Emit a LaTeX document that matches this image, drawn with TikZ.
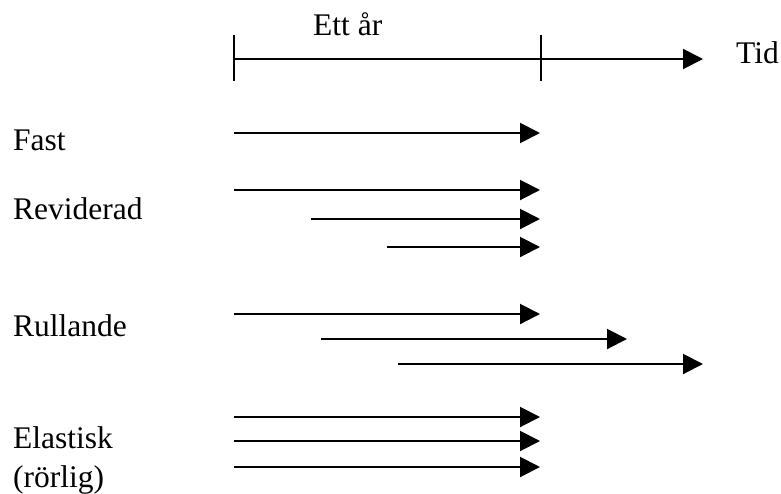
\documentclass[tikz,border=0pt]{standalone}
\usepackage{fontspec}
\setmainfont{Liberation Serif}
\usetikzlibrary{arrows.meta}
\begin{document}
\begin{tikzpicture}[x=1pt,y=-1pt,
  lbl/.style={anchor=base west,inner sep=0pt,font=\fontsize{31.5}{36}\selectfont},
  axis/.style={line width=2pt},
  plan/.style={line width=2pt,-{Triangle[length=20pt,width=20pt]}}]
\useasboundingbox (0,0) rectangle (781,493);
% time axis
\coordinate (a0) at (234,59);
\coordinate (a1) at (541,59);
\coordinate (a2) at (703,59);
\coordinate (t0a) at (234,35); \coordinate (t0b) at (234,81);
\coordinate (t1a) at (541,35); \coordinate (t1b) at (541,81);
\draw[axis] (t0a) -- (t0b);
\draw[axis] (t1a) -- (t1b);
\draw[plan] (a0) -- (a2);
\node[lbl] (ett) at (313,35) {Ett år};
\node[lbl] (tid) at (736,63) {Tid};
% labels
\node[lbl] (fast) at (13,150) {Fast};
\node[lbl] (rev) at (13,219) {Reviderad};
\node[lbl] (rul) at (13,336) {Rullande};
\node[lbl] (ela) at (13,448) {Elastisk};
\node[lbl] (ror) at (13,487) {(rörlig)};
% Fast
\coordinate (f0) at (234,133); \coordinate (f1) at (540,133);
\draw[plan] (f0) -- (f1);
% Reviderad
\coordinate (r10) at (234,190); \coordinate (r11) at (540,190);
\coordinate (r20) at (311,219); \coordinate (r21) at (540,219);
\coordinate (r30) at (387,247); \coordinate (r31) at (540,247);
\draw[plan] (r10) -- (r11);
\draw[plan] (r20) -- (r21);
\draw[plan] (r30) -- (r31);
% Rullande
\coordinate (u10) at (234,314); \coordinate (u11) at (540,314);
\coordinate (u20) at (321,339); \coordinate (u21) at (627,339);
\coordinate (u30) at (398,364); \coordinate (u31) at (703,364);
\draw[plan] (u10) -- (u11);
\draw[plan] (u20) -- (u21);
\draw[plan] (u30) -- (u31);
% Elastisk
\coordinate (e10) at (234,417); \coordinate (e11) at (540,417);
\coordinate (e20) at (234,441); \coordinate (e21) at (540,441);
\coordinate (e30) at (234,467); \coordinate (e31) at (540,467);
\draw[plan] (e10) -- (e11);
\draw[plan] (e20) -- (e21);
\draw[plan] (e30) -- (e31);
\end{tikzpicture}
\end{document}
